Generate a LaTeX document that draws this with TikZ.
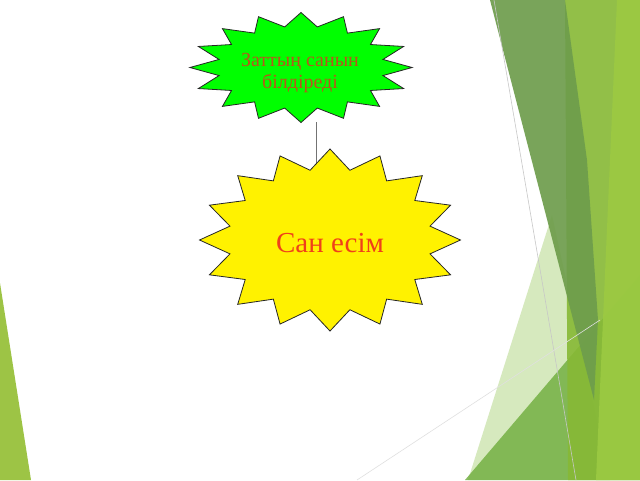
\documentclass[tikz,border=0pt]{standalone}
\usepackage{fontspec}
\setmainfont{Liberation Serif}
\usetikzlibrary{shapes.geometric}
\definecolor{leafpale}{HTML}{D6E9BE}
\definecolor{leafmid}{HTML}{74B043}
\definecolor{leaflime}{HTML}{87B935}
\definecolor{leaflight}{HTML}{9CCA42}
\definecolor{leafdark}{HTML}{6E9D4C}
\definecolor{leafleft}{HTML}{9DC445}
\definecolor{textrust}{HTML}{B8561C}
\definecolor{textred}{HTML}{F0401A}
\begin{document}
\begin{tikzpicture}[x=1pt, y=-1pt,
		burst/.style={star, star points=16, draw=black!85, line width=0.8pt, inner sep=0pt, transform shape},
		caption/.style={align=center, inner sep=0pt},
		link/.style={draw=black!55, line width=0.8pt}]
		\useasboundingbox ( 0, 0 ) rectangle ( 640, 480 );
		\fill [white] ( 0, 0 ) rectangle ( 640, 480 );

		% фон слева
		\fill [leafleft] ( 0, 283 ) -- ( 31, 480 ) -- ( 0, 480 ) -- cycle;

		% фон справа
		\fill [leafpale] ( 552, 215 ) -- ( 610, 480 ) -- ( 468, 480 ) -- cycle;
		\fill [leafmid, opacity=0.85] ( 465, 480 ) -- ( 640, 275 ) -- ( 640, 480 ) -- cycle;
		\fill [leaflime, opacity=0.9] ( 565, 0 ) -- ( 640, 0 ) -- ( 640, 480 ) -- ( 568, 480 ) -- cycle;
		\fill [leaflight, opacity=0.9] ( 617, 0 ) -- ( 640, 0 ) -- ( 640, 480 ) -- ( 596, 480 ) -- cycle;
		\fill [leafdark, opacity=0.92] ( 490, 0 ) -- ( 565, 0 ) -- ( 587, 160 ) -- ( 598, 320 ) -- ( 594, 400 ) -- cycle;
		\draw [black!22, line width=0.6pt] ( 494, 0 ) -- ( 576, 480 );
		\draw [black!12, line width=0.6pt] ( 357, 480 ) -- ( 600, 320 );

		% связь
		\coordinate (gtop) at ( 316, 122 );
		\coordinate (ybot) at ( 316, 165 );
		\draw [link] (gtop) -- (ybot);

		% звезда: Заттың санын білдіреді
		\node [burst, fill=green, star point ratio=1.33, minimum size=110, xscale=2.02] (gstar) at ( 301, 67.5 ) {};
		\node [caption, text=textrust, font=\fontsize{20}{22}\selectfont] (gtext) at ( 300, 73 ) {Заттың санын\\білдіреді};

		% звезда: Сан есім
		\node [burst, fill=yellow, star point ratio=1.28, minimum size=182, xscale=1.434] (ystar) at ( 330, 240 ) {};
		\node [caption, text=textred, font=\fontsize{29}{32}\selectfont, anchor=base] (ytext) at ( 330, 252 ) {Сан есім};
	\end{tikzpicture}
\end{document}
